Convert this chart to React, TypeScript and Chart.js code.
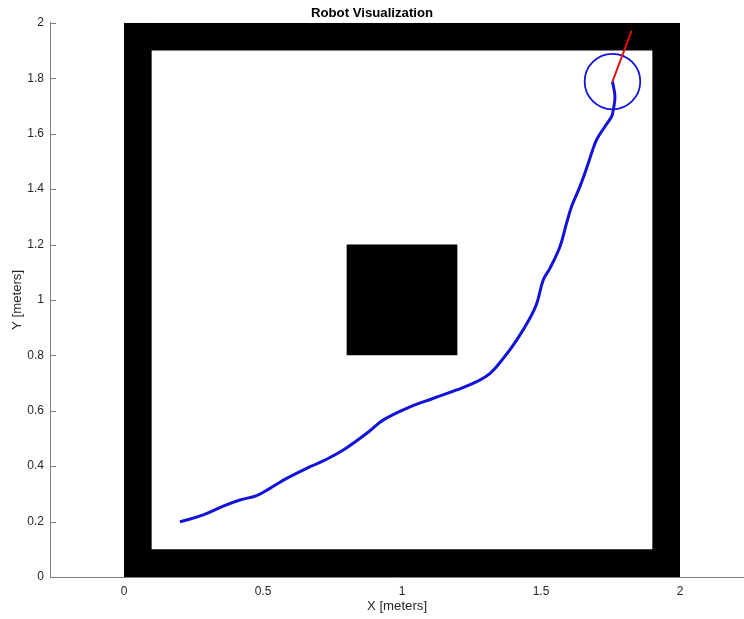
import React, { useEffect, useRef } from "react";
import { Chart, registerables } from "chart.js";

Chart.register(...registerables);

// ---- data ----
const pathX = [0.201, 0.285, 0.357, 0.417, 0.477, 0.525, 0.585, 0.669, 0.729, 0.789, 0.837, 0.885, 0.933, 1.017, 1.113, 1.197, 1.269, 1.317, 1.365, 1.413, 1.46, 1.485, 1.508, 1.532, 1.568, 1.592, 1.61, 1.64, 1.67, 1.682, 1.7, 1.73, 1.754, 1.76, 1.766, 1.757];
const pathY = [0.199, 0.224, 0.256, 0.278, 0.294, 0.32, 0.356, 0.398, 0.425, 0.458, 0.492, 0.528, 0.567, 0.609, 0.645, 0.675, 0.705, 0.735, 0.79, 0.856, 0.934, 0.988, 1.072, 1.114, 1.192, 1.277, 1.337, 1.409, 1.493, 1.53, 1.578, 1.626, 1.662, 1.686, 1.734, 1.788];

const robotCenter = { x: 1.757, y: 1.788 };
const robotRadius = 0.1;
const headingEnd = { x: 1.826, y: 1.972 };

// walls / obstacles as [xStart, xEnd, yBottom, yTop]
const wallBottom = [0, 2, 0, 0.1];
const wallTop = [0, 2, 1.9, 2];
const wallLeft = [0, 0.1, 0, 2];
const wallRight = [1.9, 2, 0, 2];
const obstacle = [0.8, 1.2, 0.8, 1.2];

const xTicks = [0, 0.5, 1, 1.5, 2];
const yTicks = [0, 0.2, 0.4, 0.6, 0.8, 1, 1.2, 1.4, 1.6, 1.8, 2];
const xRange = [-0.2662, 2.2302];
const yRange = [0, 2];

const FONT = "'Liberation Sans', Arial, Helvetica, sans-serif";

function rectDataset(r: number[]) {
  return {
    data: [
      { x: r[0], y: r[3] },
      { x: r[1], y: r[3] },
    ],
    borderColor: "rgba(0,0,0,0)",
    borderWidth: 0,
    backgroundColor: "#000000",
    pointRadius: 0,
    fill: { value: r[2] },
    tension: 0,
    order: 10,
  };
}

const insideTicks = {
  id: "insideTicks",
  beforeDatasetsDraw(chart: any) {
    const ctx = chart.ctx;
    const ys = chart.scales.y;
    const left = chart.chartArea.left;
    ctx.save();
    ctx.strokeStyle = "#808080";
    ctx.lineWidth = 1;
    ctx.beginPath();
    yTicks.forEach((v) => {
      const py = Math.round(ys.getPixelForValue(v)) + 0.5;
      ctx.moveTo(left, py);
      ctx.lineTo(left + 6, py);
    });
    ctx.stroke();
    ctx.restore();
  },
};

export default function App() {
  const ref = useRef<HTMLCanvasElement>(null);
  useEffect(() => {
    if (!ref.current) return;
    const chart = new Chart(ref.current, {
      type: "line",
      data: {
        datasets: [
          {
            data: [robotCenter, headingEnd],
            borderColor: "#e01010",
            borderWidth: 2,
            pointRadius: 0,
            fill: false,
            order: 0,
          } as any,
          {
            data: [robotCenter],
            showLine: false,
            pointRadius: (c: any) => {
              const s = c.chart.scales.x;
              return Math.abs(s.getPixelForValue(robotRadius) - s.getPixelForValue(0));
            },
            pointBorderColor: "#1515d8",
            pointBackgroundColor: "rgba(0,0,0,0)",
            pointBorderWidth: 1.8,
            fill: false,
            order: 1,
          },
          {
            data: pathX.map((x, i) => ({ x, y: pathY[i] })),
            borderColor: "#1212d8",
            borderWidth: 3,
            pointRadius: 0,
            tension: 0.4,
            fill: false,
            order: 2,
          },
          rectDataset(wallBottom),
          rectDataset(wallTop),
          rectDataset(wallLeft),
          rectDataset(wallRight),
          rectDataset(obstacle),
        ] as any,
      },
      options: {
        animation: false,
        responsive: false,
        maintainAspectRatio: false,
        layout: { padding: 0 },
        events: [],
        plugins: {
          legend: { display: false },
          tooltip: { enabled: false },
          title: {
            display: true,
            text: "Robot Visualization",
            color: "#000000",
            font: { family: FONT, size: 13.2, weight: "bold" },
            padding: { top: 5, bottom: 2 },
          },
        },
        scales: {
          x: {
            type: "linear",
            position: "bottom",
            min: xRange[0],
            max: xRange[1],
            grid: { display: false, drawTicks: false },
            border: { display: true, color: "#808080", width: 1 },
            afterBuildTicks: (s: any) => {
              s.ticks = xTicks.map((v) => ({ value: v }));
            },
            afterFit: (s: any) => {
              s.height = 42;
            },
            ticks: {
              color: "#262626",
              font: { family: FONT, size: 12 },
              padding: 7,
              maxRotation: 0,
              callback: (v: any) => String(Number(Number(v).toFixed(2))),
            },
            title: {
              display: true,
              text: "X [meters]",
              color: "#262626",
              font: { family: FONT, size: 13.2 },
              padding: { top: 0, bottom: 5 },
            },
          },
          y: {
            type: "linear",
            position: "left",
            min: yRange[0],
            max: yRange[1],
            grid: { display: false, drawTicks: false },
            border: { display: true, color: "#808080", width: 1 },
            afterBuildTicks: (s: any) => {
              s.ticks = yTicks.map((v) => ({ value: v }));
            },
            afterFit: (s: any) => {
              s.width = 50;
            },
            ticks: {
              color: "#262626",
              font: { family: FONT, size: 12 },
              padding: 6,
              callback: (v: any) => String(Number(Number(v).toFixed(2))),
            },
            title: {
              display: true,
              text: "Y [meters]",
              color: "#262626",
              font: { family: FONT, size: 13.2 },
              padding: { top: 9.5, bottom: 0 },
            },
          },
        },
      } as any,
      plugins: [insideTicks],
    });
    return () => chart.destroy();
  }, []);
  return (
    <div style={{ position: "absolute", left: 0, top: 0, width: 744, height: 619, background: "#ffffff" }}>
      <canvas ref={ref} width={744} height={619} style={{ display: "block" }} />
    </div>
  );
}
